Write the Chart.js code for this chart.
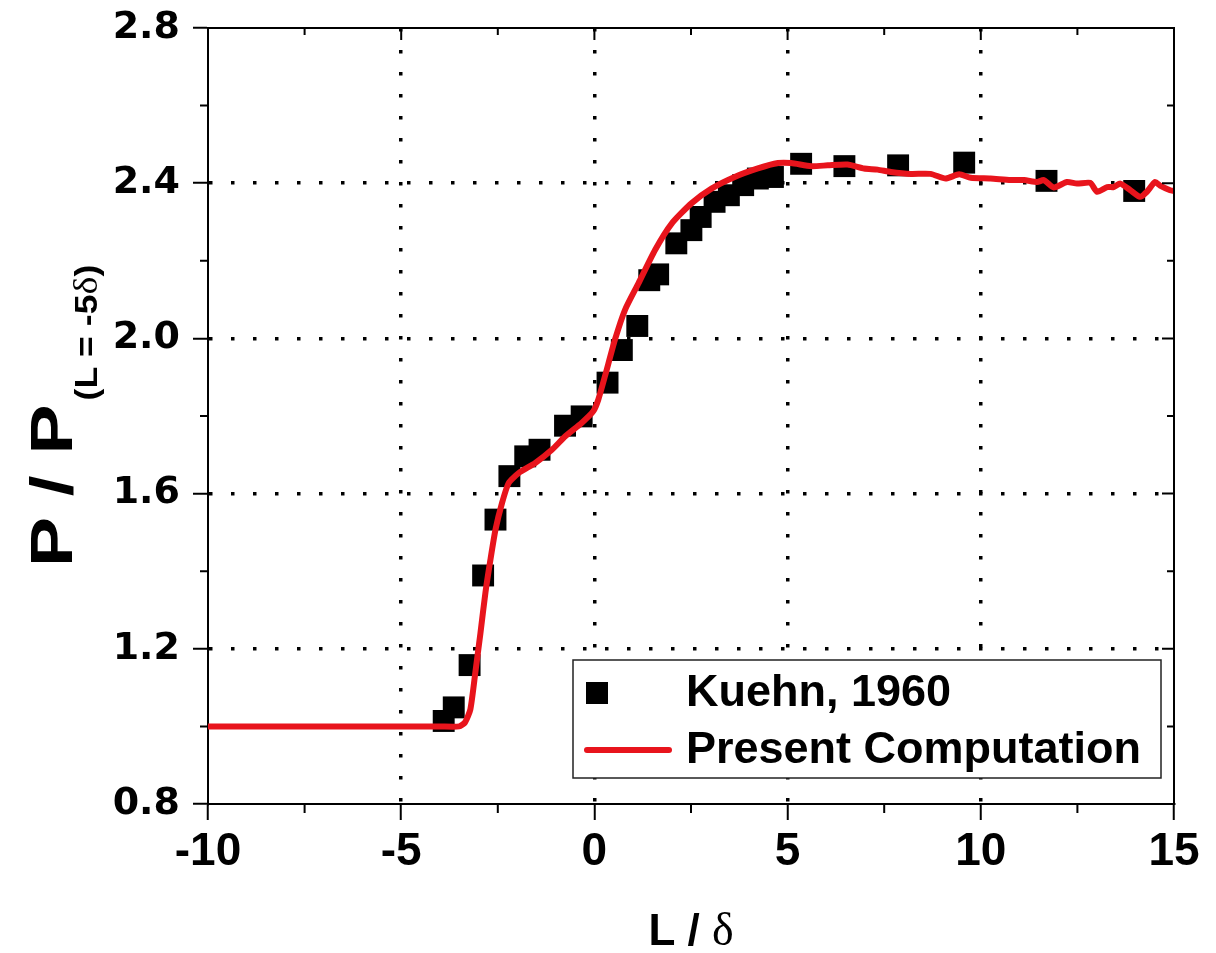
<!DOCTYPE html>
<html>
<head>
<meta charset="utf-8">
<script src="https://cdn.jsdelivr.net/npm/chart.js@4.4.0/dist/chart.umd.min.js"></script>
<style>
  html, body { margin: 0; padding: 0; background: #fff; }
  #chart { display: block; }
</style>
</head>
<body>
<canvas id="chart" width="1216" height="953"></canvas>
<script>
// Kuehn (1960) wall pressure measurements
var kuehnL = [-3.90, -3.64, -3.23, -2.88, -2.56, -2.20, -1.79, -1.42, -0.76, -0.33,
              0.34, 0.71, 1.11, 1.42, 1.65, 2.12, 2.51, 2.75, 3.11, 3.48,
              3.85, 4.23, 4.62, 5.35, 6.47, 7.86, 9.57, 11.70, 13.97];
var kuehnP = [1.014, 1.049, 1.158, 1.389, 1.533, 1.645, 1.696, 1.713, 1.775, 1.799,
              1.886, 1.970, 2.032, 2.150, 2.165, 2.245, 2.279, 2.313, 2.352, 2.369,
              2.395, 2.412, 2.416, 2.450, 2.444, 2.446, 2.453, 2.406, 2.380];

// present computation
var compL = [-10, -7, -5, -4, -3.5, -3.35, -3.21, -3.08, -2.95, -2.82,
             -2.69, -2.56, -2.39, -2.22, -1.96, -1.53, -1.10, -0.76, -0.33, -0.03,
             0.10, 0.28, 0.53, 0.79, 1.14, 1.57, 2.00, 2.51, 3.03, 3.63,
             4.23, 4.75, 5.09, 5.61, 6.04, 6.55, 6.98, 7.33, 7.67, 8.19,
             8.70, 9.09, 9.44, 9.74, 10.25, 10.77, 11.12, 11.46, 11.63, 11.89,
             12.23, 12.49, 12.83, 13.01, 13.27, 13.44, 13.61, 13.87, 14.12, 14.30,
             14.51, 14.64, 14.90, 15];
var compP = [1.0, 1.0, 1.0, 1.0, 1.0, 1.01, 1.044, 1.14, 1.24, 1.345,
             1.43, 1.507, 1.576, 1.627, 1.653, 1.679, 1.713, 1.747, 1.782, 1.812,
             1.842, 1.905, 1.996, 2.073, 2.142, 2.228, 2.296, 2.348, 2.386, 2.416,
             2.438, 2.452, 2.452, 2.444, 2.446, 2.448, 2.438, 2.435, 2.429, 2.424,
             2.424, 2.412, 2.423, 2.414, 2.412, 2.408, 2.408, 2.403, 2.408, 2.389,
             2.403, 2.399, 2.401, 2.378, 2.390, 2.390, 2.399, 2.382, 2.365, 2.378,
             2.403, 2.394, 2.382, 2.380];

var seriesNames = ['Kuehn, 1960', 'Present Computation'];
var xTicks = [-10, -5, 0, 5, 10, 15];
var xMinor = [-7.5, -2.5, 2.5, 7.5, 12.5];
var yTicks = [0.8, 1.2, 1.6, 2.0, 2.4, 2.8];
var yMinor = [1.0, 1.4, 1.8, 2.2, 2.6];

var RED = 'rgb(232, 20, 28)';
var SANS = "'Liberation Sans', Arial, sans-serif";
var SERIF = "'Liberation Serif', 'Times New Roman', serif";

function toPoints(xs, ys) {
    return xs.map(function (x, i) { return { x: x, y: ys[i] }; });
}

// inner grid only (edges are covered by the frame)
function gridColor(min, max) {
    return function (ctx) {
        var v = ctx.tick ? ctx.tick.value : null;
        if (v === null || Math.abs(v - min) < 1e-6 || Math.abs(v - max) < 1e-6) return 'rgba(0,0,0,0)';
        return '#000';
    };
}

// top/right frame, minor ticks and axis titles
var framePlugin = {
    id: 'frame',
    afterDraw: function (chart) {
        var ctx = chart.ctx, a = chart.chartArea;
        var xs = chart.scales.x, ys = chart.scales.y;
        ctx.save();
        ctx.strokeStyle = '#000';
        ctx.lineWidth = 2;
        ctx.beginPath();
        ctx.moveTo(a.left, a.top);
        ctx.lineTo(a.right, a.top);
        ctx.lineTo(a.right, a.bottom);
        ctx.stroke();

        ctx.beginPath();
        xMinor.forEach(function (v) {
            var px = xs.getPixelForValue(v);
            ctx.moveTo(px, a.bottom); ctx.lineTo(px, a.bottom + 9);
            ctx.moveTo(px, a.top); ctx.lineTo(px, a.top + 7);
        });
        xTicks.forEach(function (v) {
            var px = xs.getPixelForValue(v);
            ctx.moveTo(px, a.top); ctx.lineTo(px, a.top + 12);
        });
        yMinor.forEach(function (v) {
            var py = ys.getPixelForValue(v);
            ctx.moveTo(a.left, py); ctx.lineTo(a.left - 8, py);
            ctx.moveTo(a.right, py); ctx.lineTo(a.right - 7, py);
        });
        yTicks.forEach(function (v) {
            var py = ys.getPixelForValue(v);
            ctx.moveTo(a.right, py); ctx.lineTo(a.right - 12, py);
        });
        ctx.stroke();

        // x title: L / delta
        ctx.fillStyle = '#000';
        ctx.textBaseline = 'alphabetic';
        ctx.textAlign = 'left';
        ctx.font = 'bold 44px ' + SANS;
        var part1 = 'L / ';
        var w1 = ctx.measureText(part1).width;
        ctx.font = '46px ' + SERIF;
        var w2 = ctx.measureText('δ').width;
        var cx = (a.left + a.right) / 2;
        var sx = cx - (w1 + w2) / 2;
        ctx.font = 'bold 44px ' + SANS;
        ctx.fillText(part1, sx, 945);
        ctx.font = '46px ' + SERIF;
        ctx.fillText('δ', sx + w1, 945);

        // y title: P / P with subscript (L = -5 delta)
        ctx.save();
        ctx.translate(72, 567);
        ctx.rotate(-Math.PI / 2);
        ctx.save();
        ctx.scale(1.25, 1);
        ctx.font = 'bold 60px ' + SANS;
        ctx.fillText('P / P', 0, 0);
        var mainW = ctx.measureText('P / P').width * 1.25;
        ctx.restore();
        ctx.save();
        ctx.translate(mainW + 4, 25);
        ctx.scale(1.15, 1);
        ctx.font = 'bold 31px ' + SANS;
        var s1 = '(L = -5';
        ctx.fillText(s1, 0, 0);
        var o = ctx.measureText(s1).width;
        ctx.font = '33px ' + SERIF;
        ctx.fillText('δ', o, 0);
        o += ctx.measureText('δ').width;
        ctx.font = 'bold 31px ' + SANS;
        ctx.fillText(')', o, 0);
        ctx.restore();
        ctx.restore();

        ctx.restore();
    }
};

// boxed legend inside the plot
var boxLegend = {
    id: 'boxLegend',
    afterDatasetsDraw: function (chart) {
        var ctx = chart.ctx;
        var bx = 573, by = 660, bw = 588, bh = 118;
        ctx.save();
        ctx.fillStyle = '#fff';
        ctx.fillRect(bx, by, bw, bh);
        ctx.strokeStyle = '#222';
        ctx.lineWidth = 1.5;
        ctx.strokeRect(bx, by, bw, bh);

        ctx.fillStyle = '#000';
        ctx.fillRect(597 - 11, 693 - 11, 22, 22);
        ctx.strokeStyle = RED;
        ctx.lineWidth = 6;
        ctx.lineCap = 'round';
        ctx.beginPath();
        ctx.moveTo(587, 750);
        ctx.lineTo(669, 750);
        ctx.stroke();

        ctx.font = 'bold 45px ' + SANS;
        ctx.textBaseline = 'middle';
        ctx.textAlign = 'left';
        ctx.fillStyle = '#000';
        ctx.fillText(chart.data.datasets[0].label, 686, 694);
        ctx.fillText(chart.data.datasets[1].label, 686, 751);
        ctx.restore();
    }
};

new Chart(document.getElementById('chart').getContext('2d'), {
    type: 'scatter',
    data: {
        datasets: [
            {
                label: seriesNames[0],
                data: toPoints(kuehnL, kuehnP),
                pointStyle: 'rect',
                pointRadius: 15.5,
                pointHoverRadius: 15.5,
                pointBackgroundColor: '#000',
                pointBorderWidth: 0,
                order: 2
            },
            {
                label: seriesNames[1],
                data: toPoints(compL, compP),
                showLine: true,
                borderColor: RED,
                borderWidth: 6,
                pointRadius: 0,
                tension: 0.2,
                order: 1
            }
        ]
    },
    options: {
        responsive: false,
        animation: false,
        devicePixelRatio: 1,
        layout: { padding: { top: 28, right: 42, left: 0, bottom: 0 } },
        plugins: {
            legend: { display: false },
            tooltip: { enabled: false }
        },
        scales: {
            x: {
                type: 'linear',
                min: -10,
                max: 15,
                afterBuildTicks: function (scale) {
                    scale.ticks = xTicks.map(function (v) { return { value: v }; });
                },
                afterFit: function (scale) {
                    scale.height = 149;
                    scale.paddingLeft = 0;
                    scale.paddingRight = 0;
                },
                grid: {
                    color: gridColor(-10, 15),
                    lineWidth: 3.5,
                    tickColor: '#000',
                    tickWidth: 2,
                    tickLength: 16
                },
                border: { display: true, color: '#000', width: 2, dash: [3.5, 18.5] },
                ticks: {
                    color: '#000',
                    padding: 5,
                    maxRotation: 0,
                    font: { family: "'Liberation Sans Narrow', 'Arial Narrow', " + SANS, weight: 'bold', size: 46 },
                    callback: function (v) { return String(v); }
                }
            },
            y: {
                type: 'linear',
                min: 0.8,
                max: 2.8,
                afterBuildTicks: function (scale) {
                    scale.ticks = yTicks.map(function (v) { return { value: v }; });
                },
                afterFit: function (scale) {
                    scale.width = 208;
                    scale.paddingTop = 0;
                    scale.paddingBottom = 0;
                },
                grid: {
                    color: gridColor(0.8, 2.8),
                    lineWidth: 3.5,
                    tickColor: '#000',
                    tickWidth: 2,
                    tickLength: 15
                },
                border: { display: true, color: '#000', width: 2, dash: [3.5, 18.5] },
                ticks: {
                    color: '#000',
                    padding: 13,
                    font: { family: "'DejaVu Sans', sans-serif", weight: 'bold', size: 38 },
                    callback: function (v) { return v.toFixed(1); }
                }
            }
        }
    },
    plugins: [boxLegend, framePlugin]
});
</script>
</body>
</html>
